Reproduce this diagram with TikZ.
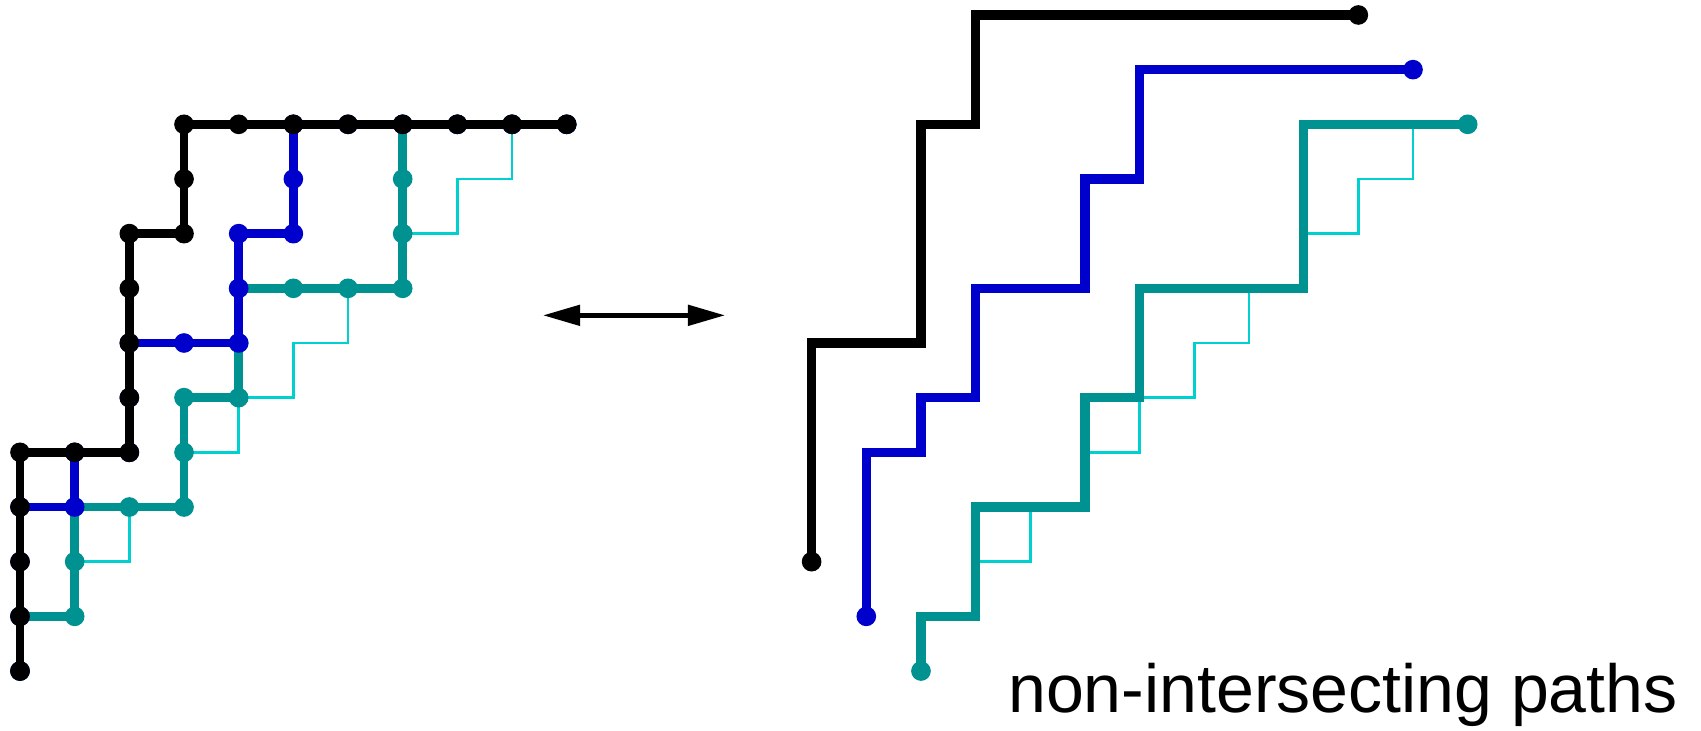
\documentclass[tikz,border=0pt]{standalone}
\usepackage{fontspec}
\setmainfont{Liberation Sans}
\usetikzlibrary{arrows.meta}

\definecolor{pathblue}{RGB}{0,0,204}
\definecolor{pathteal}{RGB}{0,145,145}
\definecolor{stairline}{RGB}{0,208,208}

\begin{document}
\begin{tikzpicture}
	% Styles
	[
	lpath/.style={line width=4.6pt},
	rpath/.style={line width=5pt},
	staircase/.style={line width=1.3pt, draw=stairline},
	swap/.style={line width=2.3pt, {Triangle[length=0.68cm, width=0.37cm]}-{Triangle[length=0.68cm, width=0.37cm]}},
	caption/.style={anchor=base west, inner sep=0pt, font=\fontsize{35.4}{40}\selectfont}
	]

	\useasboundingbox (-0.366,-1.079) rectangle (30.748,12.274);

	% Left: paths on one lattice
	\draw[staircase] (0,0) \foreach \k in {1,...,10} {|- (\k,\k)};
	\draw[lpath, pathteal] (0,0) |- (1,1) |- (3,3) |- (4,5) |- (7,7) |- (10,10);
	\foreach \x/\y in {0/0,0/1,1/1,1/2,1/3,2/3,3/3,3/4,3/5,4/5,4/6,4/7,5/7,6/7,7/7,7/8,7/9,7/10,8/10,9/10,10/10}
		\fill[pathteal] (\x,\y) circle (0.18);
	\draw[lpath, pathblue] (0,0) |- (1,3) |- (2,4) |- (4,6) |- (5,8) |- (10,10);
	\foreach \x/\y in {0/0,0/1,0/2,0/3,1/3,1/4,2/4,2/5,2/6,3/6,4/6,4/7,4/8,5/8,5/9,5/10,6/10,7/10,8/10,9/10,10/10}
		\fill[pathblue] (\x,\y) circle (0.18);
	\draw[lpath, black] (0,0) |- (2,4) |- (3,8) |- (10,10);
	\foreach \x/\y in {0/0,0/1,0/2,0/3,0/4,1/4,2/4,2/5,2/6,2/7,2/8,3/8,3/9,3/10,4/10,5/10,6/10,7/10,8/10,9/10,10/10}
		\fill[black] (\x,\y) circle (0.18);

	% Bijection arrow
	\coordinate (swapL) at (9.567,6.506);
	\coordinate (swapR) at (12.896,6.506);
	\draw[swap] (swapL) -- (swapR);

	% Right: the same paths shifted apart
	\begin{scope}[shift={(14.48,2)}]
		\draw[rpath, black] (0,0) |- (2,4) |- (3,8) |- (10,10);
		\fill[black] (0,0) circle (0.18) (10,10) circle (0.18);
	\end{scope}
	\begin{scope}[shift={(15.48,1)}]
		\draw[rpath, pathblue] (0,0) |- (1,3) |- (2,4) |- (4,6) |- (5,8) |- (10,10);
		\fill[pathblue] (0,0) circle (0.18) (10,10) circle (0.18);
	\end{scope}
	\begin{scope}[shift={(16.48,0)}]
		\draw[staircase] (0,0) \foreach \k in {1,...,10} {|- (\k,\k)};
		\draw[rpath, pathteal] (0,0) |- (1,1) |- (3,3) |- (4,5) |- (7,7) |- (10,10);
		\fill[pathteal] (0,0) circle (0.18) (10,10) circle (0.18);
	\end{scope}

	% Caption
	\node[caption] (title) at (18.07,-0.76) {non-intersecting paths};

\end{tikzpicture}
\end{document}
